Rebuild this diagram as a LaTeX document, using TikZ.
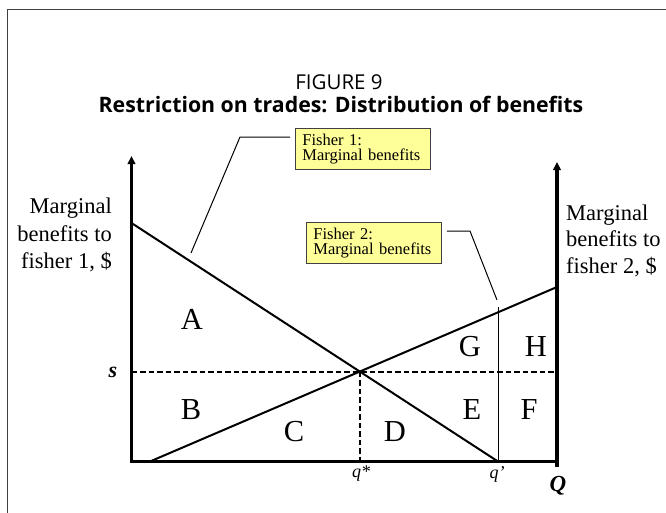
\documentclass[tikz,border=0pt]{standalone}
\usepackage{fontspec}
\setmainfont{Liberation Serif}
\newfontfamily\titlefont{Open Sans}
\usetikzlibrary{arrows.meta}
\definecolor{boxfill}{HTML}{FFFF99}
\definecolor{framecol}{HTML}{404040}
\begin{document}
\begin{tikzpicture}[x=1pt,y=-1pt,
  framestyle/.style={draw=framecol,line width=1.5pt},
  axisline/.style={line width=3.2pt,line join=miter},
  mbline/.style={line width=2pt},
  guide/.style={line width=2pt,dash pattern=on 5.5pt off 3pt},
  thinline/.style={line width=1pt},
  callbox/.style={draw=black!75,fill=boxfill,line width=0.9pt,anchor=north west,
    minimum width=135pt,minimum height=41pt,text width=121pt,inner xsep=7pt,inner ysep=0pt,
    align=left,font=\fontsize{16.5}{15}\selectfont},
  region/.style={font=\fontsize{30.5}{30}\selectfont,inner sep=0pt},
  sidelab/.style={font=\fontsize{22.5}{22}\selectfont,inner sep=0pt},
  ticklab/.style={font=\fontsize{18}{18}\selectfont\itshape,inner sep=0pt}]
\useasboundingbox (0,0) rectangle (666,512);
% frame
\draw[framestyle] (7.5,530) -- (7.5,9.5) -- (690,9.5);
% titles
\node[font=\titlefont\fontsize{20.5}{20}\selectfont,anchor=base,inner sep=0pt] (t1) at (339,89) {FIGURE 9};
\node[font=\titlefont\bfseries\fontsize{21.3}{21}\selectfont,anchor=base,inner sep=0pt] (t2) at (341,112.5) {Restriction on trades: Distribution of benefits};
% coordinates
\coordinate (O) at (131.5,461.5);
\coordinate (Ltop) at (131.5,156);
\coordinate (Rtop) at (557,162);
\coordinate (Rbot) at (557,467);
\coordinate (Xend) at (557,461.5);
\coordinate (M1a) at (131.5,223);
\coordinate (M1b) at (498,461.5);
\coordinate (M2a) at (150,461.5);
\coordinate (M2b) at (557,287);
\coordinate (I) at (intersection of M1a--M1b and M2a--M2b);
\coordinate (Qtop) at (498,307);
% curves
\draw[mbline] (M1a) -- (M1b);
\draw[mbline] (M2a) -- (M2b);
\draw[guide] (O |- I) -- (Xend |- I);
\draw[guide] (I) -- (I |- O);
\draw[thinline] (Qtop) -- (M1b);
% axes
\draw[axisline,{Triangle[width=7.5pt,length=8pt]}-] (Ltop) -- (O) -- (Xend);
\draw[axisline,{Triangle[width=7.5pt,length=8pt]}-] (Rtop) -- (Rbot);
% callouts
\node[callbox] (f1) at (295,128) {Fisher 1:\\Marginal benefits};
\node[callbox] (f2) at (306,222) {Fisher 2:\\Marginal benefits};
\coordinate (c1b) at (240,137);
\coordinate (c1c) at (191,253);
\coordinate (c2b) at (470,231);
\coordinate (c2c) at (497,300);
\draw[thinline] ([xshift=-5pt]f1.west |- c1b) -- (c1b) -- (c1c);
\draw[thinline] ([xshift=5pt]f2.east |- c2b) -- (c2b) -- (c2c);
% region letters
\node[region] (A) at (192,319) {A};
\node[region] (B) at (191,410) {B};
\node[region] (C) at (294,432) {C};
\node[region] (D) at (395,432) {D};
\node[region] (E) at (472,410) {E};
\node[region] (F) at (529,410) {F};
\node[region] (G) at (470,347) {G};
\node[region] (H) at (536,347) {H};
% axis labels
\node[sidelab,anchor=base east] (l1) at (112,213) {Marginal};
\node[sidelab,anchor=base east] (l2) at (112,241) {benefits to};
\node[sidelab,anchor=base east] (l3) at (112,268) {fisher 1, \$};
\node[sidelab,anchor=base west] (r1) at (566,220) {Marginal};
\node[sidelab,anchor=base west] (r2) at (566,246.5) {benefits to};
\node[sidelab,anchor=base west] (r3) at (566,273) {fisher 2, \$};
\node[font=\fontsize{22}{22}\selectfont\bfseries\itshape,inner sep=0pt] (s) at (113,372) {s};
\node[ticklab] (qs) at (361,474) {q*};
\node[ticklab] (qp) at (497,474) {q’};
\node[font=\fontsize{23}{23}\selectfont\bfseries\itshape,inner sep=0pt] (Q) at (558,486) {Q};
\end{tikzpicture}
\end{document}
